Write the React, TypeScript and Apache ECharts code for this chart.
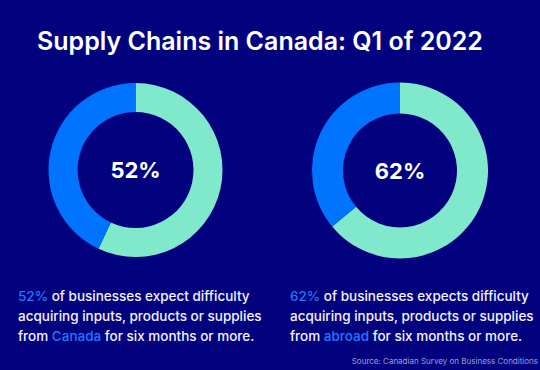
import React, { useEffect, useRef } from "react";
import * as echarts from "echarts";

const titleText = "Supply Chains in Canada: Q1 of 2022";
const segmentNames = ["Expect difficulty", "Other"];
const canadaValues = [57, 43];
const abroadValues = [64, 36];
const centerLabels = ["52%", "62%"];
const highlightWords = ["Canada", "abroad"];
const verbs = ["expect", "expects"];
const sourceText = "Source: Canadian Survey on Business Conditions";

const BG = "#02027f";
const TEAL = "#80e9cc";
const BLUE = "#0074ff";

export default function App() {
  const ref = useRef<HTMLDivElement>(null);
  useEffect(() => {
    if (!ref.current) return;
    const chart = echarts.init(ref.current, undefined, { renderer: "svg" });
    const font = "Inter, 'Noto Sans', sans-serif";
    const mkPie = (vals: number[], center: [number, number], radius: [number, number]) => ({
      type: "pie",
      center,
      radius,
      startAngle: 90,
      clockwise: true,
      silent: true,
      label: { show: false },
      labelLine: { show: false },
      itemStyle: { borderWidth: 0 },
      color: [TEAL, BLUE],
      data: vals.map((v, i) => ({ name: segmentNames[i], value: v })),
    });
    const bodyText = (i: number) =>
      `{h|${centerLabels[i]}} of businesses ${verbs[i]} difficulty\nacquiring inputs, products or supplies\nfrom {h|${highlightWords[i]}} for six months or more.`;
    const bodyStyle = (i: number) => ({
      text: bodyText(i),
      fill: "#f2f2fa",
      font: `500 13.5px ${font}`,
      lineHeight: 20,
      textVerticalAlign: "top",
      rich: {
        h: { fill: "#1f78ff", font: `500 13.5px ${font}`, lineHeight: 20 },
      },
    });
    chart.setOption({
      animation: false,
      backgroundColor: BG,
      series: [
        mkPie(canadaValues, [135.5, 170], [58, 87]),
        mkPie(abroadValues, [400, 170.5], [57, 88]),
      ],
      graphic: [
        {
          type: "text",
          x: 37,
          y: 41,
          style: {
            text: titleText,
            fill: "#ffffff",
            font: `600 25px ${font}`,
            textVerticalAlign: "middle",
          },
        },
        {
          type: "text",
          x: 135.5,
          y: 170,
          style: {
            text: centerLabels[0],
            fill: "#ffffff",
            font: `700 22px ${font}`,
            textAlign: "center",
            textVerticalAlign: "middle",
          },
        },
        {
          type: "text",
          x: 400,
          y: 170.5,
          style: {
            text: centerLabels[1],
            fill: "#ffffff",
            font: `700 22px ${font}`,
            textAlign: "center",
            textVerticalAlign: "middle",
          },
        },
        { type: "text", x: 18, y: 286, style: bodyStyle(0) },
        { type: "text", x: 290, y: 286, style: bodyStyle(1) },
        {
          type: "text",
          x: 538,
          y: 361,
          style: {
            text: sourceText,
            fill: "#9a9fd6",
            font: `400 8px ${font}`,
            textAlign: "right",
            textVerticalAlign: "middle",
          },
        },
      ],
    });
    return () => chart.dispose();
  }, []);
  return <div ref={ref} style={{ width: 540, height: 370, position: "absolute", left: 0, top: 0 }} />;
}
